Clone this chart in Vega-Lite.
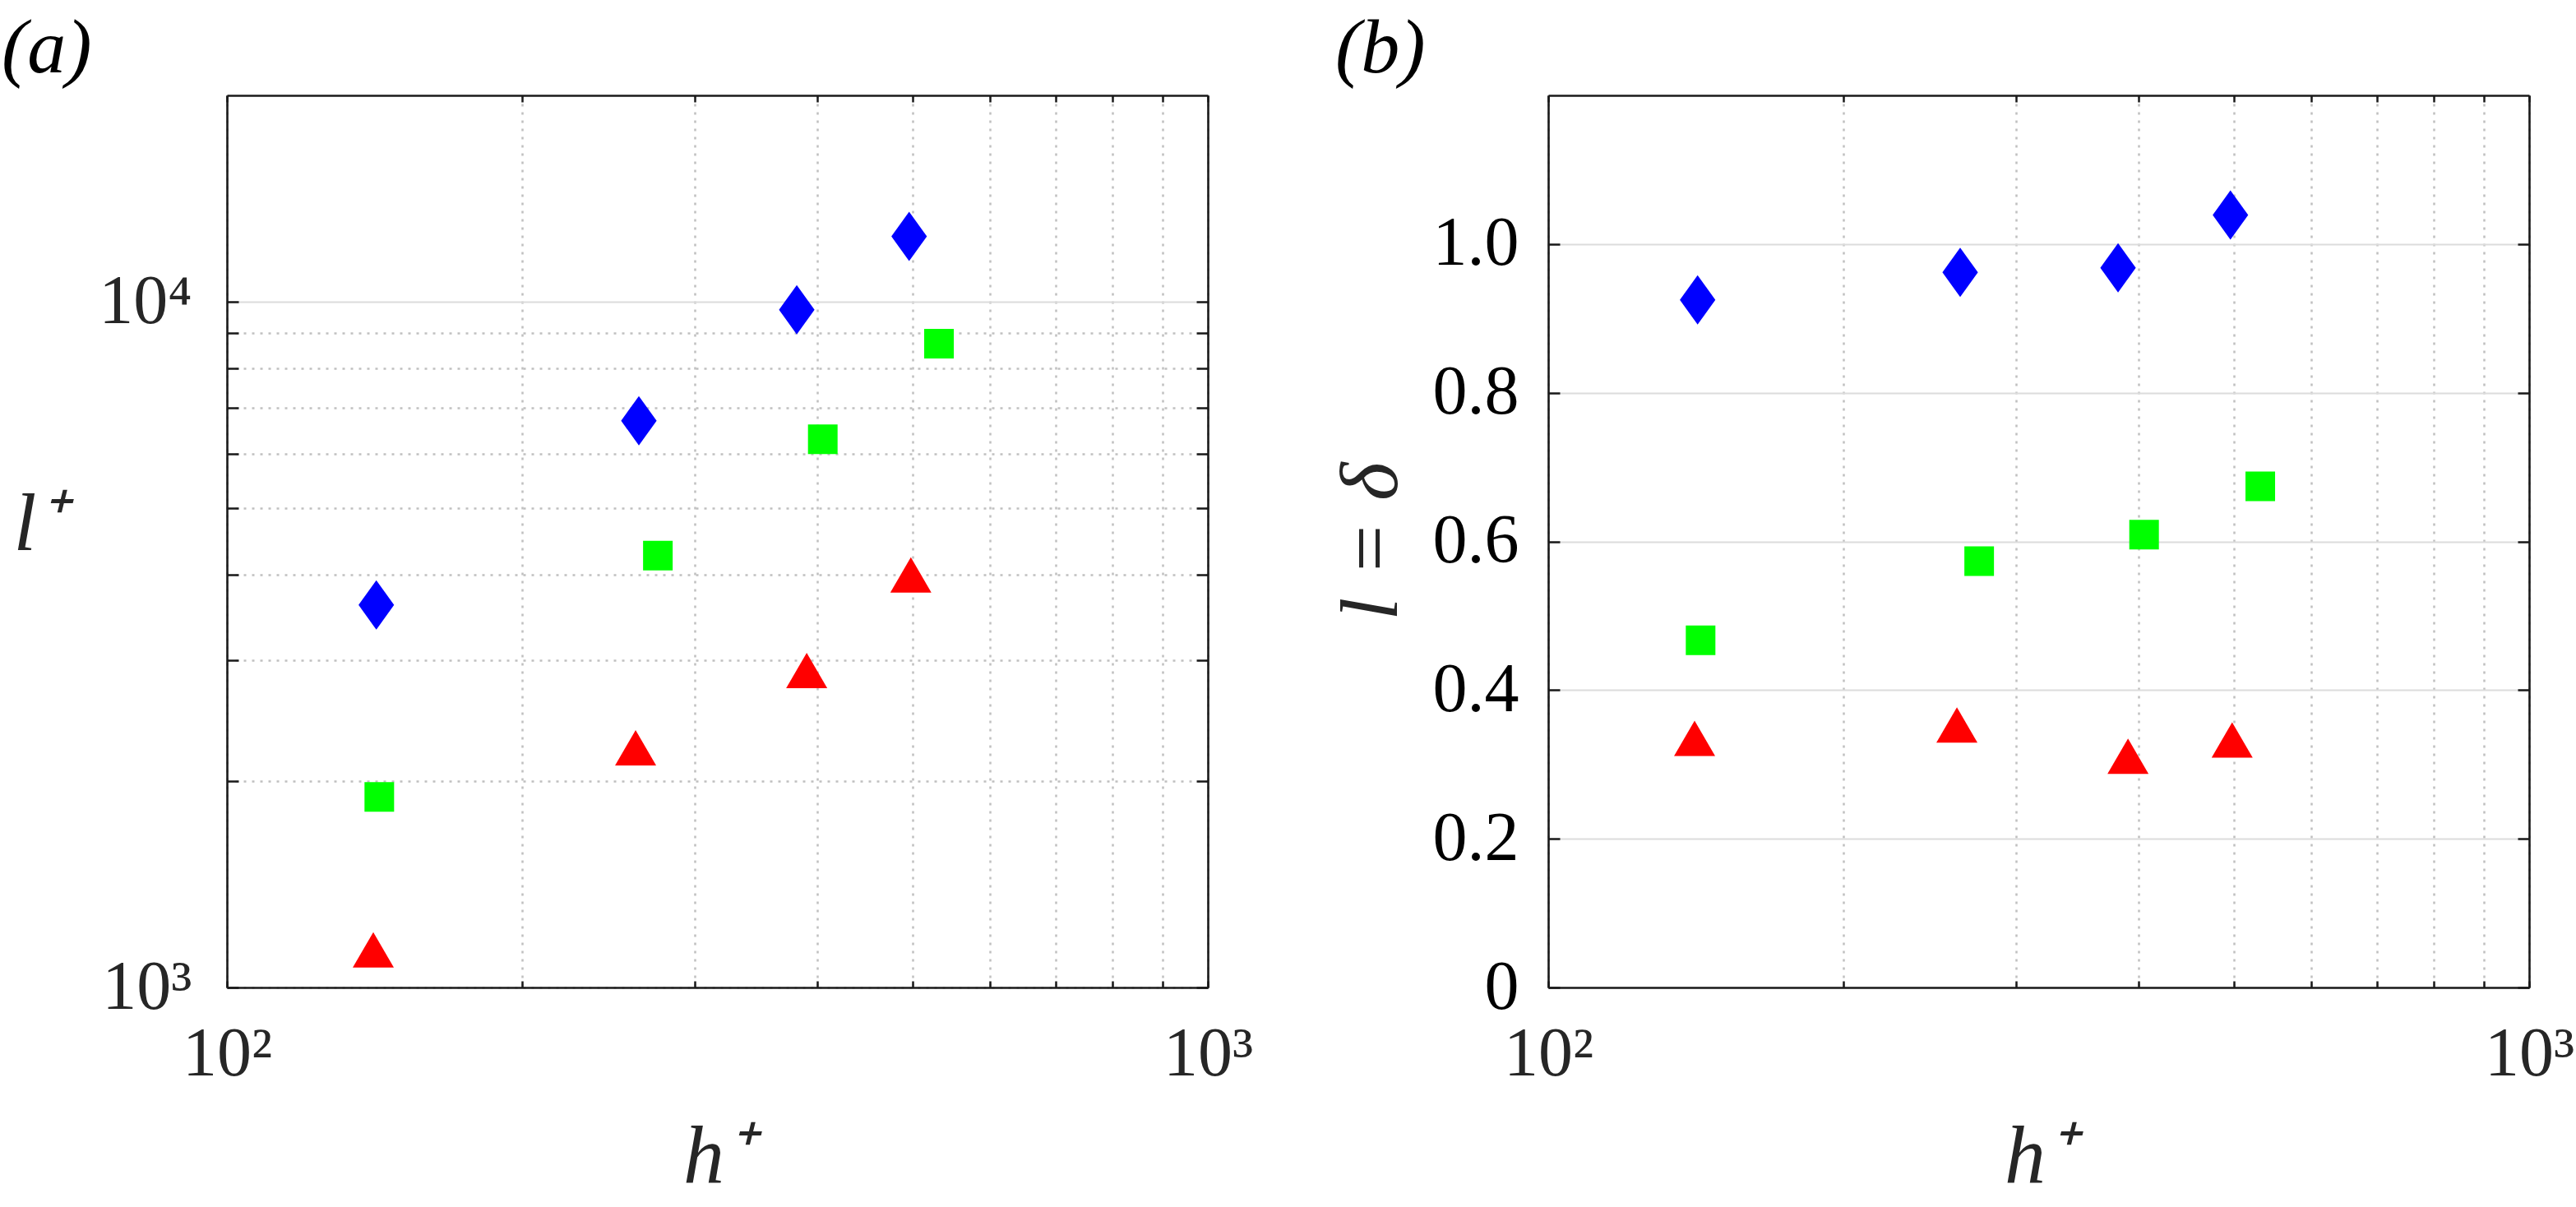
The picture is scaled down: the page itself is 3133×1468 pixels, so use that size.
{
  "$schema": "https://vega.github.io/schema/vega-lite/v6.json",
  "background": "white",
  "padding": {"left": 2, "top": 12, "right": 0, "bottom": 10},
  "config": {"view": {"stroke": null}},
  "datasets": {
    "pts": [
      {"panel": "a", "s": "d", "h": 142, "v": 3612},
      {"panel": "a", "s": "d", "h": 263, "v": 6707},
      {"panel": "a", "s": "d", "h": 381, "v": 9737},
      {"panel": "a", "s": "d", "h": 496, "v": 12452},
      {"panel": "a", "s": "q", "h": 143, "v": 1896},
      {"panel": "a", "s": "q", "h": 275, "v": 4264},
      {"panel": "a", "s": "q", "h": 405, "v": 6304},
      {"panel": "a", "s": "q", "h": 532, "v": 8687},
      {"panel": "a", "s": "t", "h": 141, "v": 1135},
      {"panel": "a", "s": "t", "h": 261, "v": 2237},
      {"panel": "a", "s": "t", "h": 390, "v": 2899},
      {"panel": "a", "s": "t", "h": 498, "v": 3997},
      {"panel": "b", "s": "d", "h": 142, "v": 0.925},
      {"panel": "b", "s": "d", "h": 263, "v": 0.962},
      {"panel": "b", "s": "d", "h": 381, "v": 0.968},
      {"panel": "b", "s": "d", "h": 496, "v": 1.039},
      {"panel": "b", "s": "q", "h": 143, "v": 0.467},
      {"panel": "b", "s": "q", "h": 275, "v": 0.5735},
      {"panel": "b", "s": "q", "h": 405, "v": 0.609},
      {"panel": "b", "s": "q", "h": 532, "v": 0.674},
      {"panel": "b", "s": "t", "h": 141, "v": 0.335},
      {"panel": "b", "s": "t", "h": 261, "v": 0.353},
      {"panel": "b", "s": "t", "h": 390, "v": 0.311},
      {"panel": "b", "s": "t", "h": 498, "v": 0.333}
    ]
  },
  "data": {"name": "pts"},
  "bounds": "flush",
  "spacing": 414,
  "hconcat": [
    {
      "width": 1193,
      "height": 1085,
      "title": {"text": "(a)", "anchor": "start", "frame": "group", "dx": -274, "offset": -67, "baseline": "alphabetic", "fontSize": 94, "font": "Liberation Serif", "fontStyle": "italic", "fontWeight": "normal", "color": "black"},
      "transform": [{"filter": "datum.panel == 'a'"}],
      "resolve": {"axis": {"x": "independent", "y": "independent"}},
      "layer": [
        {
          "mark": {"type": "point", "filled": true, "opacity": 1, "strokeWidth": 0, "size": 3600},
          "encoding": {
            "x": {"field": "h", "type": "quantitative", "scale": {"type": "log", "domain": [100, 1000], "nice": false},
              "axis": {"orient": "bottom", "values": [100, 200, 300, 400, 500, 600, 700, 800, 900, 1000],
                "labelExpr": "datum.value == 100 ? '10²' : datum.value == 1000 ? '10³' : ''",
                "labelFont": "Liberation Serif", "labelFontSize": 84, "labelColor": "#262626", "labelBaseline": "alphabetic", "labelPadding": 114, "labelFlush": false, "labelOverlap": false,
                "tickSize": -8, "tickWidth": 2.5, "tickColor": "#1a1a1a", "domainColor": "#1a1a1a", "domainWidth": 2.6,
                "grid": true, "gridColor": "#c0c0c0", "gridWidth": 2.5, "gridDash": [3, 7],
                "title": "h⁺", "titleFont": "Liberation Serif", "titleFontSize": 100, "titleFontStyle": "italic", "titleFontWeight": "normal", "titleColor": "#262626", "titleX": 596.5, "titleY": 236, "titleBaseline": "alphabetic", "titleAlign": "center"}},
            "y": {"field": "v", "type": "quantitative", "scale": {"type": "log", "domain": [1000, 20000], "nice": false},
              "axis": {"orient": "left", "values": [1000, 2000, 3000, 4000, 5000, 6000, 7000, 8000, 9000, 10000],
                "labelExpr": "datum.value == 1000 ? '10³' : datum.value == 10000 ? '10⁴' : ''",
                "labelFont": "Liberation Serif", "labelFontSize": 84, "labelColor": "#262626", "labelAlign": "right", "labelBaseline": "middle", "labelPadding": 57, "labelFlush": false, "labelOverlap": false,
                "tickSize": -14, "tickWidth": 2.5, "tickColor": "#1a1a1a", "domainColor": "#1a1a1a", "domainWidth": 2.6,
                "grid": true,
                "gridColor": {"condition": {"test": "datum.value == 10000", "value": "#dcdcdc"}, "value": "#c0c0c0"},
                "gridDash": {"condition": {"test": "datum.value == 10000", "value": []}, "value": [3, 7]},
                "gridWidth": {"condition": {"test": "datum.value == 10000", "value": 2}, "value": 2.5},
                "title": "l⁺", "titleFont": "Liberation Serif", "titleFontSize": 100, "titleFontStyle": "italic", "titleFontWeight": "normal", "titleColor": "#262626", "titleAngle": 0, "titleX": -229, "titleY": 552, "titleBaseline": "alphabetic", "titleAlign": "center"}},
            "shape": {"field": "s", "type": "nominal", "scale": {"domain": ["d", "q", "t"], "range": ["M0,-1L0.72,0L0,1L-0.72,0Z", "M-0.6,-0.6L0.6,-0.6L0.6,0.6L-0.6,0.6Z", "M0,-0.717L0.833,0.717L-0.833,0.717Z"]}, "legend": null},
            "color": {"field": "s", "type": "nominal", "scale": {"domain": ["d", "q", "t"], "range": ["#0000ff", "#00ff00", "#ff0000"]}, "legend": null}
          }
        },
        {
          "mark": {"type": "point", "opacity": 0},
          "encoding": {
            "x": {"field": "h", "type": "quantitative",
              "axis": {"orient": "top", "values": [100, 200, 300, 400, 500, 600, 700, 800, 900, 1000], "labels": false, "grid": false, "title": null,
                "tickSize": -8, "tickWidth": 2.5, "tickColor": "#1a1a1a", "domainColor": "#1a1a1a", "domainWidth": 2.6}},
            "y": {"field": "v", "type": "quantitative",
              "axis": {"orient": "right", "values": [1000, 2000, 3000, 4000, 5000, 6000, 7000, 8000, 9000, 10000], "labels": false, "grid": false, "title": null,
                "tickSize": -14, "tickWidth": 2.5, "tickColor": "#1a1a1a", "domainColor": "#1a1a1a", "domainWidth": 2.6}}
          }
        }
      ]
    },
    {
      "width": 1193,
      "height": 1085,
      "title": {"text": "(b)", "anchor": "start", "frame": "group", "dx": -259, "offset": -67, "baseline": "alphabetic", "fontSize": 94, "font": "Liberation Serif", "fontStyle": "italic", "fontWeight": "normal", "color": "black"},
      "transform": [{"filter": "datum.panel == 'b'"}],
      "resolve": {"axis": {"x": "independent", "y": "independent"}},
      "layer": [
        {
          "mark": {"type": "point", "filled": true, "opacity": 1, "strokeWidth": 0, "size": 3600},
          "encoding": {
            "x": {"field": "h", "type": "quantitative", "scale": {"type": "log", "domain": [100, 1000], "nice": false},
              "axis": {"orient": "bottom", "values": [100, 200, 300, 400, 500, 600, 700, 800, 900, 1000],
                "labelExpr": "datum.value == 100 ? '10²' : datum.value == 1000 ? '10³' : ''",
                "labelFont": "Liberation Serif", "labelFontSize": 84, "labelColor": "#262626", "labelBaseline": "alphabetic", "labelPadding": 114, "labelFlush": false, "labelOverlap": false,
                "tickSize": -8, "tickWidth": 2.5, "tickColor": "#1a1a1a", "domainColor": "#1a1a1a", "domainWidth": 2.6,
                "grid": true, "gridColor": "#c0c0c0", "gridWidth": 2.5, "gridDash": [3, 7],
                "title": "h⁺", "titleFont": "Liberation Serif", "titleFontSize": 100, "titleFontStyle": "italic", "titleFontWeight": "normal", "titleColor": "#262626", "titleX": 596.5, "titleY": 236, "titleBaseline": "alphabetic", "titleAlign": "center"}},
            "y": {"field": "v", "type": "quantitative", "scale": {"type": "linear", "domain": [0, 1.2], "nice": false},
              "axis": {"orient": "left", "values": [0, 0.2, 0.4, 0.6, 0.8, 1.0],
                "labelExpr": "datum.value == 0 ? '0' : format(datum.value, '.1f')",
                "labelFont": "Liberation Serif", "labelFontSize": 84, "labelColor": "black", "labelAlign": "right", "labelBaseline": "middle", "labelPadding": 50, "labelFlush": false, "labelOverlap": false,
                "tickSize": -14, "tickWidth": 2.5, "tickColor": "#1a1a1a", "domainColor": "#1a1a1a", "domainWidth": 2.6,
                "grid": true, "gridColor": "#dcdcdc", "gridWidth": 2,
                "title": "l = δ", "titleFont": "Liberation Serif", "titleFontSize": 100, "titleFontStyle": "italic", "titleFontWeight": "normal", "titleColor": "#262626", "titleAngle": 270, "titleX": -185, "titleY": 542, "titleBaseline": "alphabetic", "titleAlign": "center"}},
            "shape": {"field": "s", "type": "nominal", "scale": {"domain": ["d", "q", "t"], "range": ["M0,-1L0.72,0L0,1L-0.72,0Z", "M-0.6,-0.6L0.6,-0.6L0.6,0.6L-0.6,0.6Z", "M0,-0.717L0.833,0.717L-0.833,0.717Z"]}, "legend": null},
            "color": {"field": "s", "type": "nominal", "scale": {"domain": ["d", "q", "t"], "range": ["#0000ff", "#00ff00", "#ff0000"]}, "legend": null}
          }
        },
        {
          "mark": {"type": "point", "opacity": 0},
          "encoding": {
            "x": {"field": "h", "type": "quantitative",
              "axis": {"orient": "top", "values": [100, 200, 300, 400, 500, 600, 700, 800, 900, 1000], "labels": false, "grid": false, "title": null,
                "tickSize": -8, "tickWidth": 2.5, "tickColor": "#1a1a1a", "domainColor": "#1a1a1a", "domainWidth": 2.6}},
            "y": {"field": "v", "type": "quantitative",
              "axis": {"orient": "right", "values": [0, 0.2, 0.4, 0.6, 0.8, 1.0], "labels": false, "grid": false, "title": null,
                "tickSize": -14, "tickWidth": 2.5, "tickColor": "#1a1a1a", "domainColor": "#1a1a1a", "domainWidth": 2.6}}
          }
        }
      ]
    }
  ]
}
